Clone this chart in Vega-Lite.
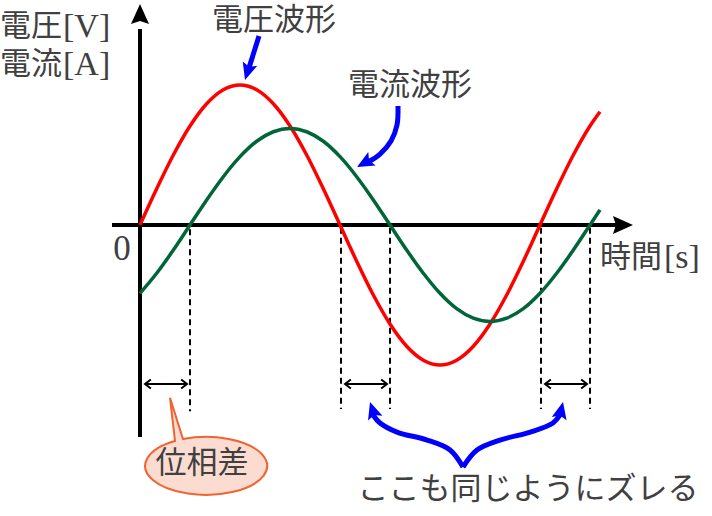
{
 "$schema": "https://vega.github.io/schema/vega-lite/v6.json",
 "width": 712, "height": 516,
 "autosize": {"type": "fit", "contains": "padding"},
 "padding": 0,
 "background": "white",
 "config": {"view": {"stroke": null}},
 "encoding": {
  "x": {"field": "x", "type": "quantitative", "scale": {"domain": [-126, 514.8], "nice": false, "zero": false}, "axis": null},
  "y": {"field": "y", "type": "quantitative", "scale": {"domain": [-2.0786, 1.6071], "nice": false, "zero": false}, "axis": null}
 },
 "layer": [
  {
   "data": {"values": [
    {"x": 45, "y": -0.03, "y2": -1.33},
    {"x": 180.9, "y": -0.02, "y2": -1.314},
    {"x": 225, "y": -0.02, "y2": -1.314},
    {"x": 360.9, "y": -0.02, "y2": -1.314},
    {"x": 405, "y": -0.02, "y2": -1.314}
   ]},
   "mark": {"type": "rule", "color": "black", "strokeWidth": 2, "strokeDash": [6, 4]},
   "encoding": {"y2": {"field": "y2"}}
  },
  {
   "data": {"values": [
    {"x": 4.5, "x2": 42.3, "y": -1.136},
    {"x": 184.5, "x2": 222.3, "y": -1.136},
    {"x": 364.5, "x2": 402.3, "y": -1.136}
   ]},
   "mark": {"type": "rule", "color": "black", "strokeWidth": 2},
   "encoding": {"x2": {"field": "x2"}}
  },
  {
   "data": {"values": [{"x": 4.5, "y": -1.136}, {"x": 184.5, "y": -1.136}, {"x": 364.5, "y": -1.136}]},
   "mark": {"type": "point", "shape": "M1.3,-1L0,0L1.3,1", "filled": false, "stroke": "black", "strokeWidth": 2, "size": 81, "opacity": 1},
   "encoding": {}
  },
  {
   "data": {"values": [{"x": 42.3, "y": -1.136}, {"x": 222.3, "y": -1.136}, {"x": 402.3, "y": -1.136}]},
   "mark": {"type": "point", "shape": "M-1.3,-1L0,0L-1.3,1", "filled": false, "stroke": "black", "strokeWidth": 2, "size": 81, "opacity": 1},
   "encoding": {}
  },
  {
   "data": {"values": [{"x": -25.2, "x2": 430, "y": 0}]},
   "mark": {"type": "rule", "color": "black", "strokeWidth": 4},
   "encoding": {"x2": {"field": "x2"}}
  },
  {
   "data": {"values": [{"x": 0, "y": -1.514, "y2": 1.4}]},
   "mark": {"type": "rule", "color": "black", "strokeWidth": 4},
   "encoding": {"y2": {"field": "y2"}}
  },
  {
   "data": {"values": [{"x": 0, "y": 1.5786}]},
   "mark": {"type": "point", "shape": "M0,0L0.82,1.82L0,1.55L-0.82,1.82Z", "filled": true, "color": "black", "size": 484, "opacity": 1, "angle": 0},
   "encoding": {}
  },
  {
   "data": {"values": [{"x": 443.7, "y": 0}]},
   "mark": {"type": "point", "shape": "M0,0L0.82,1.82L0,1.55L-0.82,1.82Z", "filled": true, "color": "black", "size": 484, "opacity": 1, "angle": 90},
   "encoding": {}
  },
  {
   "data": {"values": [
    {"x": 0, "y": 0}, {"x": 15, "y": 0.2588}, {"x": 30, "y": 0.5}, {"x": 45, "y": 0.7071}, {"x": 60, "y": 0.866}, {"x": 75, "y": 0.9659}, {"x": 90, "y": 1}, {"x": 105, "y": 0.9659}, {"x": 120, "y": 0.866}, {"x": 135, "y": 0.7071}, {"x": 150, "y": 0.5}, {"x": 165, "y": 0.2588}, {"x": 180, "y": 0}, {"x": 195, "y": -0.2588}, {"x": 210, "y": -0.5}, {"x": 225, "y": -0.7071}, {"x": 240, "y": -0.866}, {"x": 255, "y": -0.9659}, {"x": 270, "y": -1}, {"x": 285, "y": -0.9659}, {"x": 300, "y": -0.866}, {"x": 315, "y": -0.7071}, {"x": 330, "y": -0.5}, {"x": 345, "y": -0.2588}, {"x": 360, "y": 0}, {"x": 375, "y": 0.2588}, {"x": 390, "y": 0.5}, {"x": 405, "y": 0.7071}, {"x": 414, "y": 0.809}
   ]},
   "mark": {"type": "line", "color": "#ff0000", "strokeWidth": 3.5, "interpolate": "monotone"},
   "encoding": {}
  },
  {
   "data": {"values": [
    {"x": 0, "y": -0.488}, {"x": 15, "y": -0.345}, {"x": 30, "y": -0.179}, {"x": 45, "y": 0}, {"x": 60, "y": 0.179}, {"x": 75, "y": 0.345}, {"x": 90, "y": 0.488}, {"x": 105, "y": 0.598}, {"x": 120, "y": 0.666}, {"x": 135, "y": 0.69}, {"x": 150, "y": 0.666}, {"x": 165, "y": 0.598}, {"x": 180, "y": 0.488}, {"x": 195, "y": 0.345}, {"x": 210, "y": 0.179}, {"x": 225, "y": 0}, {"x": 240, "y": -0.179}, {"x": 255, "y": -0.345}, {"x": 270, "y": -0.488}, {"x": 285, "y": -0.598}, {"x": 300, "y": -0.666}, {"x": 315, "y": -0.69}, {"x": 330, "y": -0.666}, {"x": 345, "y": -0.598}, {"x": 360, "y": -0.488}, {"x": 375, "y": -0.345}, {"x": 390, "y": -0.179}, {"x": 405, "y": 0}, {"x": 414, "y": 0.108}
   ]},
   "mark": {"type": "line", "color": "#00663a", "strokeWidth": 3.5, "interpolate": "monotone"},
   "encoding": {}
  },
  {
   "data": {"values": [
    {"id": "a1", "i": 0, "x": 107.1, "y": 1.35}, {"id": "a1", "i": 1, "x": 97.2, "y": 1.1},
    {"id": "a2", "i": 0, "x": 232.2, "y": 0.85}, {"id": "a2", "i": 1, "x": 231.3, "y": 0.714}, {"id": "a2", "i": 2, "x": 225.9, "y": 0.6}, {"id": "a2", "i": 3, "x": 216, "y": 0.507}, {"id": "a2", "i": 4, "x": 205.2, "y": 0.45},
    {"id": "bl", "i": 0, "x": 290.7, "y": -1.729}, {"id": "bl", "i": 1, "x": 279, "y": -1.607}, {"id": "bl", "i": 2, "x": 258.3, "y": -1.536}, {"id": "bl", "i": 3, "x": 231.3, "y": -1.479}, {"id": "bl", "i": 4, "x": 216, "y": -1.414}, {"id": "bl", "i": 5, "x": 209.7, "y": -1.357},
    {"id": "br", "i": 0, "x": 290.7, "y": -1.729}, {"id": "br", "i": 1, "x": 303.3, "y": -1.607}, {"id": "br", "i": 2, "x": 324, "y": -1.536}, {"id": "br", "i": 3, "x": 351.3, "y": -1.479}, {"id": "br", "i": 4, "x": 371.7, "y": -1.414}, {"id": "br", "i": 5, "x": 378, "y": -1.357}
   ]},
   "mark": {"type": "line", "color": "#0000ff", "strokeWidth": 5, "interpolate": "catmull-rom"},
   "encoding": {"detail": {"field": "id"}, "order": {"field": "i"}}
  },
  {
   "data": {"values": [{"x": 94.5, "y": 1.036}]},
   "mark": {"type": "point", "shape": "M0,0L0.8,1.8L0,1.45L-0.8,1.8Z", "filled": true, "color": "#0000ff", "size": 361, "opacity": 1, "angle": 197},
   "encoding": {}
  },
  {
   "data": {"values": [{"x": 195.3, "y": 0.414}]},
   "mark": {"type": "point", "shape": "M0,0L0.8,1.8L0,1.45L-0.8,1.8Z", "filled": true, "color": "#0000ff", "size": 361, "opacity": 1, "angle": 241},
   "encoding": {}
  },
  {
   "data": {"values": [{"x": 207, "y": -1.264}]},
   "mark": {"type": "point", "shape": "M0,0L0.8,1.8L0,1.45L-0.8,1.8Z", "filled": true, "color": "#0000ff", "size": 361, "opacity": 1, "angle": 342},
   "encoding": {}
  },
  {
   "data": {"values": [{"x": 380.7, "y": -1.264}]},
   "mark": {"type": "point", "shape": "M0,0L0.8,1.8L0,1.45L-0.8,1.8Z", "filled": true, "color": "#0000ff", "size": 361, "opacity": 1, "angle": 13},
   "encoding": {}
  },
  {
   "data": {"values": [{"x": 59.4, "y": -1.721}]},
   "mark": {"type": "point", "shape": "M-0.508,-0.409L-0.59,-1.115L-0.377,-0.44A1,0.475,0,1,1,-0.508,-0.409Z", "filled": true, "fill": "#fcdcd0", "stroke": "#f06432", "strokeWidth": 2, "size": 14884, "opacity": 1},
   "encoding": {}
  },
  {
   "data": {"values": [
    {"t": "電圧波形", "x": 120.6, "y": 1.457},
    {"t": "電流波形", "x": 243, "y": 0.993},
    {"t": "ここも同じようにズレる", "x": 349.2, "y": -1.893},
    {"t": "位相差", "x": 55.8, "y": -1.707}
   ]},
   "mark": {"type": "text", "font": "Noto Sans CJK JP", "fontSize": 31, "color": "#404040", "align": "center", "baseline": "middle"},
   "encoding": {"text": {"field": "t"}}
  },
  {
   "data": {"values": [
    {"t": "電圧", "x": -126, "y": 1.414},
    {"t": "電流", "x": -126, "y": 1.143},
    {"t": "時間", "x": 414, "y": -0.236}
   ]},
   "mark": {"type": "text", "font": "Noto Sans CJK JP", "fontSize": 31, "color": "#404040", "align": "left", "baseline": "middle"},
   "encoding": {"text": {"field": "t"}}
  },
  {
   "data": {"values": [
    {"t": "[V]", "x": -69.3, "y": 1.414},
    {"t": "[A]", "x": -69.3, "y": 1.143},
    {"t": "[s]", "x": 471.6, "y": -0.236}
   ]},
   "mark": {"type": "text", "font": "Liberation Serif", "fontSize": 34, "color": "#404040", "align": "left", "baseline": "middle"},
   "encoding": {"text": {"field": "t"}}
  },
  {
   "data": {"values": [{"t": "0", "x": -16.2, "y": -0.171}]},
   "mark": {"type": "text", "font": "Liberation Serif", "fontSize": 35, "color": "#404040", "align": "center", "baseline": "middle"},
   "encoding": {"text": {"field": "t"}}
  }
 ]
}
